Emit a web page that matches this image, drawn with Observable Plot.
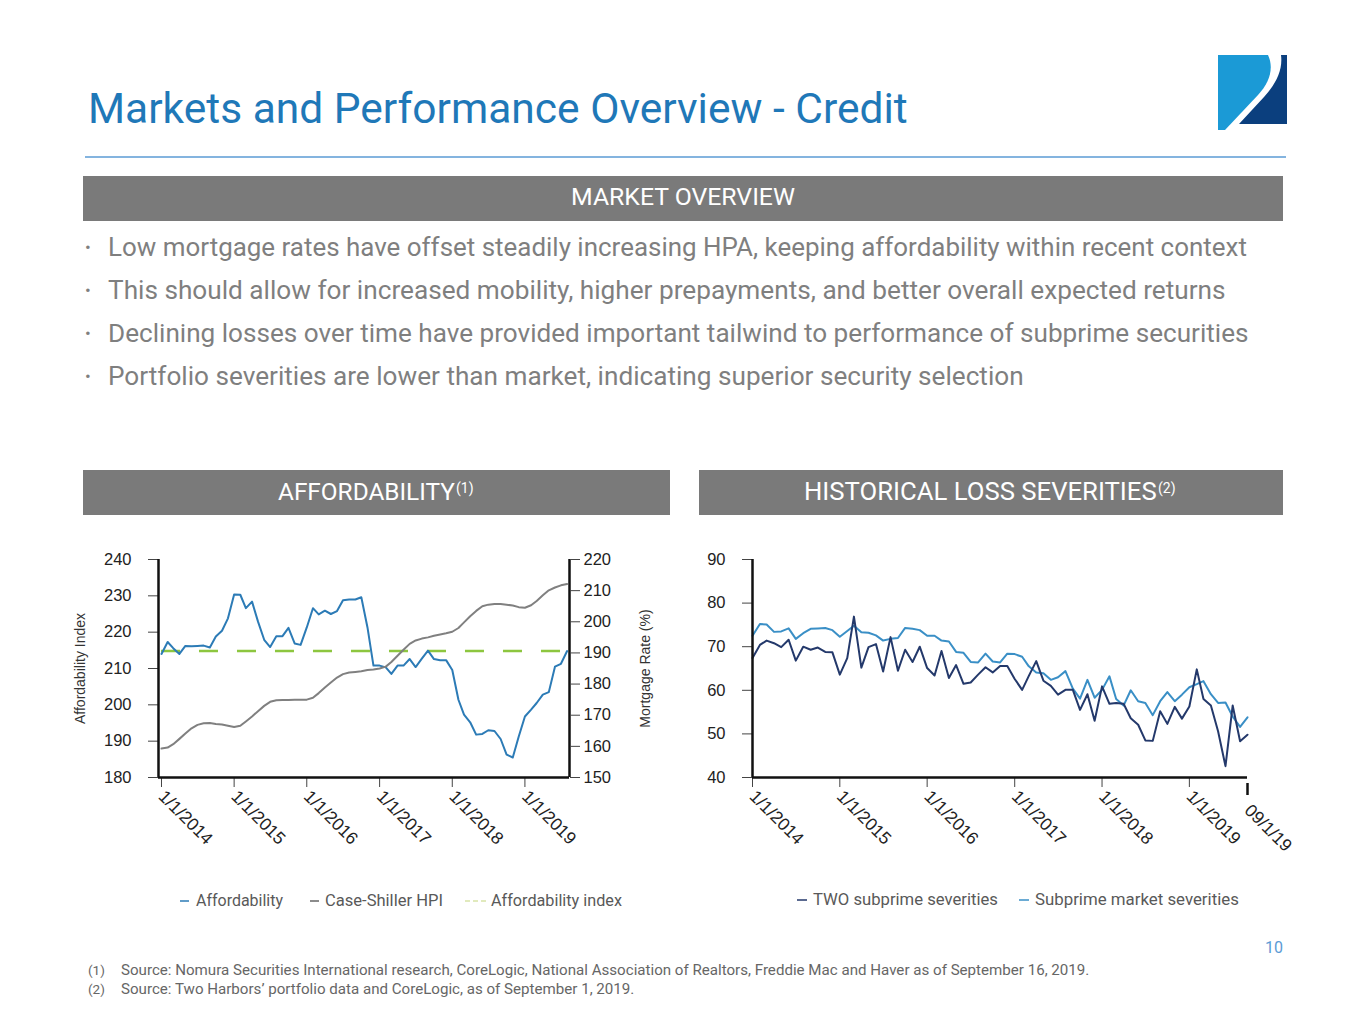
<!DOCTYPE html>
<html><head><meta charset="utf-8">
<script src="https://cdn.jsdelivr.net/npm/d3@7"></script>
<script src="https://cdn.jsdelivr.net/npm/@observablehq/plot@0.6"></script>
<style>
html,body{margin:0;padding:0;background:#fff;}
#page{position:relative;width:1365px;height:1024px;overflow:hidden;background:#fff;}
#bg{position:absolute;left:0;top:0;}
.chart{position:absolute;}
.chart svg{max-width:none!important;}
</style></head>
<body><div id="page"><svg id="bg" width="1365" height="1024"></svg>
<div id="affA" class="chart" style="left:70px;top:540px;width:600px;height:340px"></div>
<div id="affB" class="chart" style="left:70px;top:540px;width:600px;height:340px"></div>
<div id="sev" class="chart" style="left:690px;top:540px;width:620px;height:340px"></div>
</div>
<script>
// ---------------- data ----------------
const titleText = "Markets and Performance Overview - Credit";
const sectionTitle = "MARKET OVERVIEW";
const bullets = [
  "Low mortgage rates have offset steadily increasing HPA, keeping affordability within recent context",
  "This should allow for increased mobility, higher prepayments, and better overall expected returns",
  "Declining losses over time have provided important tailwind to performance of subprime securities",
  "Portfolio severities are lower than market, indicating superior security selection"
];
const panelTitles = ["AFFORDABILITY", "HISTORICAL LOSS SEVERITIES"];
const panelNotes = ["(1)", "(2)"];

// Affordability chart: monthly, Jan 2014 - Aug 2019
const affordability = [
  214.0, 217.3, 215.6, 214.0, 216.2, 216.1, 216.2, 216.3, 215.8, 218.8, 220.4, 223.8,
  230.4, 230.3, 226.6, 228.4, 222.9, 217.9, 215.9, 218.9, 218.9, 221.2, 216.9, 216.5,
  221.3, 226.6, 224.9, 225.9, 225.0, 225.8, 228.8, 229.0, 229.0, 229.6, 221.3, 210.8,
  210.8, 210.3, 208.5, 210.8, 210.8, 212.6, 210.4, 212.7, 214.9, 212.6, 212.3, 212.3,
  209.6, 201.4, 197.3, 195.2, 191.8, 192.0, 193.0, 192.8, 190.6, 186.3, 185.5, 191.3,
  196.8, 198.7, 200.5, 202.8, 203.5, 210.5, 211.3, 214.8
];
const caseShiller = [
  159.3, 159.6, 160.7, 162.4, 164.1, 165.8, 166.9, 167.4, 167.5, 167.2, 167.0, 166.6,
  166.2, 166.6, 168.0, 169.6, 171.3, 173.0, 174.3, 174.8, 174.9, 174.9, 175.0, 175.0,
  175.0, 175.6, 177.1, 178.9, 180.5, 182.1, 183.2, 183.7, 183.9, 184.1, 184.5, 184.7,
  185.0, 185.6, 187.1, 189.1, 191.0, 192.9, 194.0, 194.6, 195.0, 195.5, 195.9, 196.3,
  196.8, 198.0, 199.8, 201.8, 203.5, 205.0, 205.5, 205.7, 205.7, 205.5, 205.2, 204.7,
  204.5, 205.3, 206.7, 208.5, 210.1, 211.0, 211.7, 212.1
];
const affordabilityIndex = 214.8;
const affTicksLeft = [180, 190, 200, 210, 220, 230, 240];
const affTicksRight = [150, 160, 170, 180, 190, 200, 210, 220];

// Loss severities: monthly, Jan 2014 - Sep 2019
const twoSeverities = [
  67.4, 70.4, 71.4, 70.8, 69.9, 71.6, 66.8, 70.0, 69.3, 69.8, 68.8, 68.7,
  63.6, 67.4, 76.9, 65.2, 69.9, 70.6, 64.3, 72.2, 64.5, 69.3, 66.5, 70.0,
  65.1, 63.4, 69.0, 62.8, 65.8, 61.5, 61.8, 63.6, 65.3, 64.1, 65.6, 65.6,
  62.6, 60.1, 63.3, 66.7, 62.2, 61.0, 59.0, 60.1, 60.1, 55.5, 59.1, 53.0,
  60.9, 56.9, 57.1, 56.9, 53.6, 52.1, 48.5, 48.4, 55.2, 52.3, 56.2, 53.5,
  56.3, 64.8, 58.0, 56.5, 50.6, 42.6, 56.5, 48.3, 49.8
];
const marketSeverities = [
  72.5, 75.2, 75.1, 73.4, 73.5, 74.2, 71.8, 73.1, 74.1, 74.2, 74.3, 73.8,
  72.3, 73.6, 74.8, 73.3, 73.2, 72.6, 71.4, 71.8, 72.0, 74.3, 74.1, 73.8,
  72.5, 72.5, 71.4, 71.2, 68.8, 68.6, 66.5, 66.4, 68.4, 66.6, 66.4, 68.4,
  68.3, 67.7, 65.5, 64.1, 63.9, 62.4, 63.0, 64.4, 60.4, 58.1, 62.4, 58.3,
  60.1, 63.2, 58.0, 56.5, 60.0, 57.5, 57.1, 54.3, 57.5, 59.6, 57.5, 59.0,
  60.7, 61.4, 62.1, 59.1, 57.1, 57.2, 54.0, 51.6, 53.8
];
const sevTicks = [40, 50, 60, 70, 80, 90];
const yearLabels = ["1/1/2014", "1/1/2015", "1/1/2016", "1/1/2017", "1/1/2018", "1/1/2019"];
const lastLabel = "09/1/19";
const affLegend = ["Affordability", "Case-Shiller HPI", "Affordability index"];
const sevLegend = ["TWO subprime severities", "Subprime market severities"];
const footnotes = [
  ["(1)", "Source: Nomura Securities International research, CoreLogic, National Association of Realtors, Freddie Mac and Haver as of September 16, 2019."],
  ["(2)", "Source: Two Harbors\u2019 portfolio data and CoreLogic, as of September 1, 2019."]
];
const pageNumber = "10";

// ---------------- colours / fonts ----------------
const C = {
  title: "#1f78b8", rule: "#5b9bd5", bar: "#7a7a7a", body: "#7f7f7f", note: "#666666",
  aff: "#2c7bb6", hpi: "#808080", idx: "#8dc63f", idxLegend: "#d8e4a8",
  two: "#24396b", market: "#3a8fc6", axis: "#111111", tick: "#444444"
};
const SANS = 'Roboto, "Liberation Sans", Arial, sans-serif';
const CHART = '"Liberation Sans", Arial, sans-serif';

// ---------------- background slide ----------------
const bg = d3.select("#bg");
function txt(str, x, y, size, fill, opts = {}) {
  const t = bg.append("text").attr("x", x).attr("y", y).attr("font-size", size)
    .attr("font-family", opts.family || SANS).attr("fill", fill)
    .attr("text-anchor", opts.anchor || "start").text(str);
  if (opts.fit) {
    const w = t.node().getComputedTextLength();
    t.attr("font-size", size * opts.fit / w);
  }
  return t;
}
// title
txt(titleText, 88, 123, 40, C.title, {fit: 820});
bg.append("line").attr("x1", 85).attr("x2", 1286).attr("y1", 157).attr("y2", 157)
  .attr("stroke", C.rule).attr("stroke-width", 1.5);
// logo
bg.append("path").attr("d", "M1218,55 H1268 C1274,68 1270,82 1258,95 L1225,130 H1218 Z").attr("fill", "#1b9ad6");
bg.append("path").attr("d", "M1281,55 H1287 V124 H1239 L1264,97 C1276,84 1283,70 1281,55 Z").attr("fill", "#0b3f7e");
// market overview bar
bg.append("rect").attr("x", 83).attr("y", 176).attr("width", 1200).attr("height", 45).attr("fill", C.bar);
txt(sectionTitle, 683, 205, 22, "#fff", {anchor: "middle", fit: 224});
// bullets
const bulletWidths = [1139, 1118, 1141, 916];
bullets.forEach((b, i) => {
  txt(b, 108, 256 + i * 43, 24, C.body, {fit: bulletWidths[i]});
  txt("\u2022", 85, 253 + i * 43, 17, C.body);
});
// panel bars
[[83, 587, 278, 177, 455], [699, 584, 804, 353, 1157]].forEach(([x, w, tx, tw, nx], i) => {
  bg.append("rect").attr("x", x).attr("y", 470).attr("width", w).attr("height", 45).attr("fill", C.bar);
  txt(panelTitles[i], tx, 500, 22, "#fff", {fit: tw});
  txt(panelNotes[i], nx + 1, 493, 14, "#fff");
});
// legends
function legLine(x1, x2, y, color, dash) {
  bg.append("line").attr("x1", x1).attr("x2", x2).attr("y1", y).attr("y2", y)
    .attr("stroke", color).attr("stroke-width", 1.5).attr("stroke-dasharray", dash || null);
}
const legY = 906, legColor = "#595959";
legLine(180, 189, 901, C.aff); txt(affLegend[0], 196, legY, 16, legColor, {fit: 87});
legLine(310, 319, 901, "#666"); txt(affLegend[1], 325, legY, 16, legColor, {fit: 118});
legLine(465, 486, 901, C.idxLegend, "5,3"); txt(affLegend[2], 491, legY, 16, legColor, {fit: 131});
legLine(797, 807, 900, C.two); txt(sevLegend[0], 813, 905, 16, legColor, {fit: 185});
legLine(1019, 1029, 900, C.market); txt(sevLegend[1], 1035, 905, 16, legColor, {fit: 204});
// page number & footnotes
txt(pageNumber, 1283, 953, 16, C.rule, {anchor: "end"});
const noteWidths = [969, 514];
footnotes.forEach(([n, s], i) => {
  txt(n, 88, 975 + i * 19, 13.5, C.note);
  txt(s, 121, 975 + i * 19, 13.5, C.note, {fit: noteWidths[i]});
});

// ---------------- charts ----------------
const affMonths = d3.timeMonth.range(new Date(2014, 0, 1), new Date(2019, 8, 1));
const sevMonths = d3.timeMonth.range(new Date(2014, 0, 1), new Date(2019, 9, 1));
const yearDates = d3.range(2014, 2020).map(y => new Date(y, 0, 1));
const yearFmt = d => yearLabels[yearDates.findIndex(y => +y === +d)];
const affRows = affMonths.map((d, i) => ({date: d, aff: affordability[i], hpi: caseShiller[i]}));
const sevRows = sevMonths.map((d, i) => ({date: d, two: twoSeverities[i], market: marketSeverities[i]}));

const L = {width: 600, height: 340, marginLeft: 88, marginRight: 101, marginTop: 19, marginBottom: 103};
const affDomain = [new Date(2013, 11, 17), new Date(2019, 7, 13)];
const chartStyle = {fontFamily: CHART, fontSize: "16.5px", color: "#222", background: "transparent"};
const xTickFont = 17.5;

const plotA = Plot.plot({
  ...L, style: chartStyle,
  x: {type: "time", domain: affDomain},
  y: {domain: [180, 240]},
  marks: [
    Plot.ruleY([affordabilityIndex], {x1: affMonths[0], x2: affMonths[affMonths.length - 1],
      stroke: C.idx, strokeWidth: 2.5, strokeDasharray: "19,19"}),
    Plot.lineY(affRows, {x: "date", y: "aff", stroke: C.aff, strokeWidth: 2}),
    Plot.axisY({ticks: affTicksLeft, tickSize: 10, tickPadding: 17, label: null, stroke: C.tick}),
    Plot.axisX({ticks: yearDates, tickSize: 10, tickPadding: 6, tickRotate: 45, tickFormat: yearFmt,
      label: null, stroke: C.tick, fontSize: xTickFont}),
    Plot.ruleX(affDomain, {stroke: C.axis, strokeWidth: 2.5}),
    Plot.ruleY([180], {stroke: C.axis, strokeWidth: 2.5}),
    Plot.text(["Affordability Index"], {frameAnchor: "left", rotate: -90, dx: -78, textAnchor: "middle",
      lineAnchor: "middle", fontSize: 14, fill: "#333"})
  ]
});
document.getElementById("affA").append(plotA);

const plotB = Plot.plot({
  ...L, style: chartStyle,
  x: {type: "time", domain: affDomain, axis: null},
  y: {domain: [150, 220]},
  marks: [
    Plot.lineY(affRows, {x: "date", y: "hpi", stroke: C.hpi, strokeWidth: 2}),
    Plot.axisY({anchor: "right", ticks: affTicksRight, tickSize: 10, tickPadding: 4, label: null, stroke: C.tick}),
    Plot.text(["Mortgage Rate (%)"], {frameAnchor: "right", rotate: -90, dx: 76, textAnchor: "middle",
      lineAnchor: "middle", fontSize: 14, fill: "#333"})
  ]
});
document.getElementById("affB").append(plotB);

const S = {width: 620, height: 340, marginLeft: 62, marginRight: 63, marginTop: 19, marginBottom: 103};
const sevDomain = [new Date(2014, 0, 1), new Date(2019, 8, 1)];
const plotS = Plot.plot({
  ...S, style: chartStyle,
  x: {type: "time", domain: sevDomain},
  y: {domain: [40, 90]},
  marks: [
    Plot.lineY(sevRows, {x: "date", y: "market", stroke: C.market, strokeWidth: 2}),
    Plot.lineY(sevRows, {x: "date", y: "two", stroke: C.two, strokeWidth: 2}),
    Plot.axisY({ticks: sevTicks, tickSize: 10, tickPadding: 17, label: null, stroke: C.tick}),
    Plot.axisX({ticks: yearDates, tickSize: 10, tickPadding: 6, tickRotate: 45, tickFormat: yearFmt,
      label: null, stroke: C.tick, fontSize: xTickFont}),
    Plot.axisX({ticks: [sevDomain[1]], tickSize: 12, dy: 6, tickPadding: 12, tickRotate: 45,
      tickFormat: () => lastLabel, label: null, stroke: C.axis, strokeWidth: 2.5, fontSize: xTickFont}),
    Plot.ruleX([sevDomain[0]], {stroke: C.axis, strokeWidth: 2.5}),
    Plot.ruleY([40], {stroke: C.axis, strokeWidth: 2.5})
  ]
});
document.getElementById("sev").append(plotS);
</script>
</body></html>
